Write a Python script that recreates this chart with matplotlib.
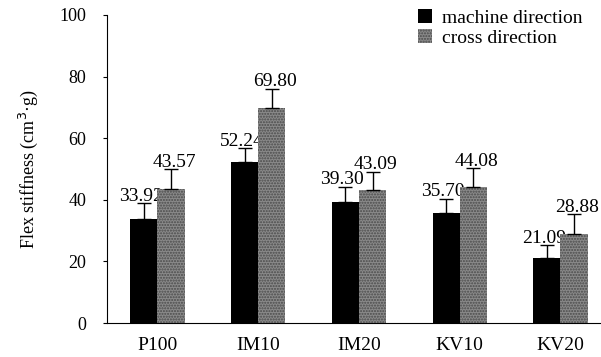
import matplotlib
matplotlib.use("Agg")
import matplotlib.pyplot as plt
import numpy as np

plt.rcParams["font.family"] = ["Liberation Serif", "DejaVu Serif"]

samples = ["P100", "IM10", "IM20", "KV10", "KV20"]
machine = [33.92, 52.24, 39.30, 35.70, 21.09]
cross = [43.57, 69.80, 43.09, 44.08, 28.88]
machine_err = [5.0, 4.6, 5.0, 4.6, 4.2]
cross_err = [6.4, 6.2, 6.0, 6.2, 6.5]

fig = plt.figure(figsize=(6.01, 3.57), dpi=100)
ax = fig.add_axes([0.178, 0.095, 0.82, 0.863])

x = np.arange(len(samples))
w = 0.27

# black labels go under the gray bars (as in the original, partly hidden)
ax.bar(x - w / 2, machine, w, color="black", zorder=2,
       yerr=[np.zeros(5), machine_err], error_kw=dict(ecolor="black", capsize=5, lw=1),
       label="machine direction")
ax.bar(x + w / 2, cross, w, color="#8a8a8a", edgecolor="#4a4a4a", hatch="......",
       linewidth=0, zorder=4,
       yerr=[np.zeros(5), cross_err], error_kw=dict(ecolor="black", capsize=5, lw=1, zorder=5),
       label="cross direction")

for i in range(len(samples)):
    ax.text(x[i] - w / 2 - 0.03, machine[i] + machine_err[i] - 0.5, f"{machine[i]:.2f}",
            ha="center", va="bottom", fontsize=14, zorder=3)
    ax.text(x[i] + w / 2 + 0.03, cross[i] + cross_err[i] - 0.5, f"{cross[i]:.2f}",
            ha="center", va="bottom", fontsize=14, zorder=6)

ax.set_xlim(-0.5, 4.39)
ax.set_ylim(0, 100)
ax.set_yticks([0, 20, 40, 60, 80, 100])
ax.set_xticks(x)
ax.set_xticklabels(samples, fontsize=14)
ax.tick_params(axis="y", labelsize=13, length=3, direction="out", pad=12)
ax.tick_params(axis="x", length=0, pad=10)
ax.spines["top"].set_visible(False)
ax.spines["right"].set_visible(False)
ax.set_ylabel("Flex stiffness (cm$^3$·g)", fontsize=13, labelpad=14)

ax.legend(loc="upper left", bbox_to_anchor=(0.596, 1.075), frameon=False, fontsize=14,
          handlelength=0.7, handleheight=0.7, handletextpad=0.5, labelspacing=0.1)

fig.savefig("out.png", dpi=100)
